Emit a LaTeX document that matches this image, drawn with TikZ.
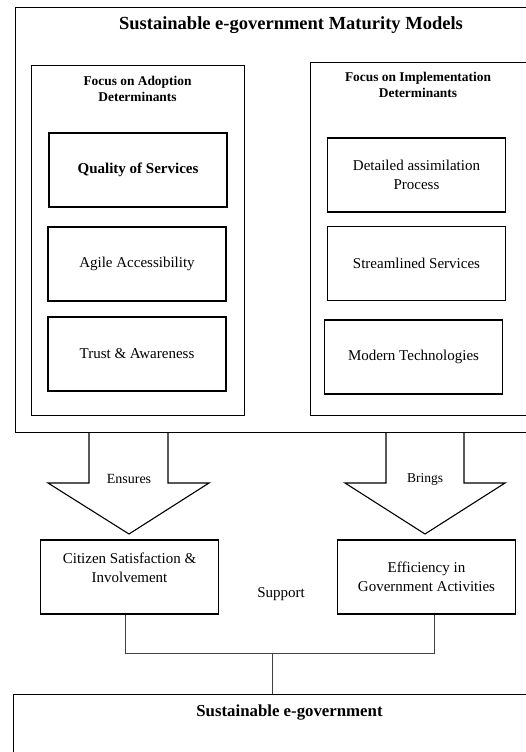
\documentclass[tikz,border=0pt]{standalone}
\usepackage{fontspec}
\setmainfont{Liberation Serif}
\usetikzlibrary{positioning}

\begin{document}
\begin{tikzpicture}[x=1pt,y=-1pt,line width=1.1pt,
    frame/.style={draw, anchor=north west, inner sep=0pt},
    item/.style={draw, minimum width=178pt, minimum height=74pt, inner sep=2pt,
        align=center, font=\fontsize{15}{19}\selectfont},
    head/.style={align=center, font=\bfseries\fontsize{13.4}{16}\selectfont},
    note/.style={font=\fontsize{14}{17}\selectfont},
    link/.style={draw=black!75, line width=0.7pt}]
    \useasboundingbox (0,0) rectangle (526,752);
    \clip (0,0) rectangle (526,752);

    % modely zralosti
    \node[frame, minimum width=552pt, minimum height=425pt] (outer) at (15,7) {};
    \node[font=\bfseries\fontsize{18.5}{22}\selectfont] (title) at (291,25)
        {Sustainable e-government Maturity Models};

    \node[frame, minimum width=213pt, minimum height=350pt] (adopt) at (31,65) {};
    \node[head] (adopthead) at (137.5,88.5) {Focus on Adoption\\Determinants};
    \node[item, font=\bfseries\fontsize{15}{19}\selectfont] (quality) at (138,170) {Quality of Services};
    \node[item] (agile) at (137,264) {Agile Accessibility};
    \node[item] (trust) at (137,354) {Trust \& Awareness};

    \node[frame, minimum width=222pt, minimum height=353pt] (impl) at (310,62) {};
    \node[head] (implhead) at (418,85) {Focus on Implementation\\Determinants};
    \node[item] (detailed) at (416.5,175) {Detailed assimilation\\Process};
    \node[item] (streamlined) at (416.5,263.5) {Streamlined Services};
    \node[item] (modern) at (413.5,357) {Modern Technologies};

    % sipky
    \draw (89,432) -- (89,483) -- (48,483) -- (129,534) -- (209,483) -- (168,483) -- (168,432);
    \node[note] (ensures) at (129,479) {Ensures};
    \draw (386,432) -- (386,483) -- (345,483) -- (425,534) -- (505,483) -- (464,483) -- (464,432);
    \node[note, font=\fontsize{13.5}{16}\selectfont] (brings) at (425,479) {Brings};

    % vysledky
    \node[item] (citizen) at (129.5,577) {};
    \node[align=center, font=\fontsize{15}{19}\selectfont] (citizentext) at (129.5,567.5)
        {Citizen Satisfaction \&\\Involvement};
    \node[item] (efficiency) at (426.5,577) {Efficiency in\\Government Activities};
    \node[font=\fontsize{15}{18}\selectfont] (support) at (281,594) {Support};

    % udrzitelny e-government
    \node[frame, minimum width=553pt, minimum height=100pt] (goal) at (13,694) {};
    \node[font=\bfseries\fontsize{16.8}{20}\selectfont] (goaltitle) at (289.5,713)
        {Sustainable e-government};

    \coordinate (join) at (272,653);
    \draw[link] ([xshift=-4.5pt]citizen.south) -- ++(0,39) -| ([xshift=7.5pt]efficiency.south);
    \draw[link] (join) -- (join |- goal.north);
\end{tikzpicture}
\end{document}
